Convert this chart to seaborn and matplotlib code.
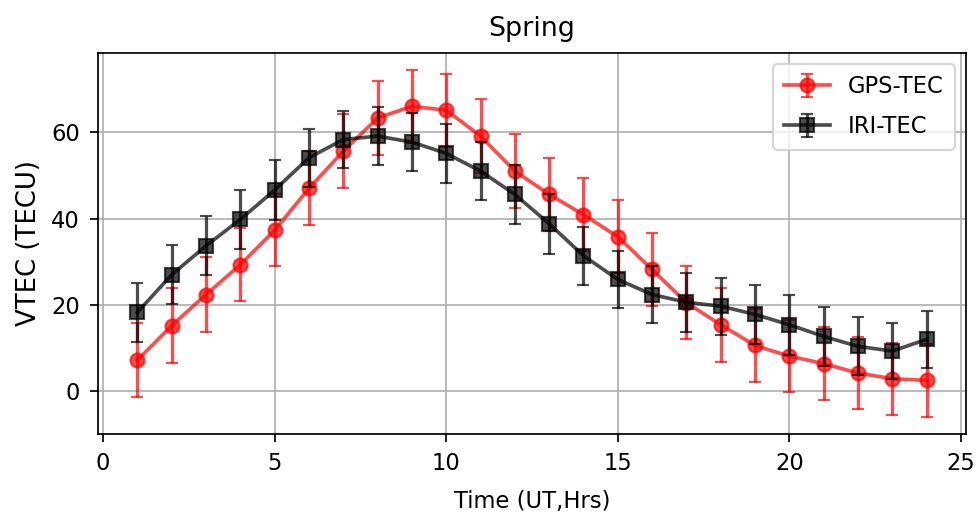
import matplotlib
matplotlib.use("Agg")
import matplotlib.pyplot as plt
import seaborn as sns
import pandas as pd

# Hourly mean vertical TEC for spring, with standard deviations
hours = list(range(1, 25))
gps_tec = [7.2, 15.2, 22.4, 29.3, 37.3, 47.0, 55.6, 63.3, 66.0, 65.1, 59.1, 51.0,
           45.6, 40.9, 35.8, 28.2, 20.5, 15.4, 10.6, 8.1, 6.4, 4.2, 2.9, 2.5]
gps_std = [8.6, 8.7, 8.6, 8.5, 8.3, 8.6, 8.6, 8.5, 8.4, 8.5, 8.5, 8.5,
           8.5, 8.5, 8.4, 8.5, 8.5, 8.6, 8.4, 8.3, 8.5, 8.4, 8.3, 8.4]
iri_tec = [18.3, 27.0, 33.7, 39.8, 46.6, 54.1, 58.3, 59.1, 57.7, 55.1, 51.0, 45.6,
           38.8, 31.4, 25.9, 22.4, 20.6, 19.7, 17.8, 15.4, 12.7, 10.4, 9.3, 12.0]
iri_std = [6.8, 6.8, 6.8, 6.8, 7.0, 6.7, 6.7, 6.7, 6.7, 6.9, 6.8, 6.8,
           6.9, 6.7, 6.7, 6.7, 6.8, 6.6, 6.8, 7.0, 6.8, 6.7, 6.4, 6.7]

series = [
    ("GPS-TEC", gps_tec, gps_std, "red", "o"),
    ("IRI-TEC", iri_tec, iri_std, "black", "s"),
]

DPI = 155
fig = plt.figure(figsize=(978 / DPI, 512 / DPI), dpi=DPI)
ax = fig.add_axes([0.1002, 0.1523, 0.8875, 0.7447])

handles, labels = [], []
for name, vals, std, color, marker in series:
    df = pd.DataFrame({"hour": hours, "tec": vals})
    sns.lineplot(data=df, x="hour", y="tec", ax=ax, color=color, marker=marker,
                 markersize=6.5, markeredgecolor=color, markeredgewidth=1,
                 linewidth=1.7, alpha=0.7, legend=False)
    line = ax.lines[-1]
    eb = ax.errorbar(hours, vals, yerr=std, fmt="none", ecolor=color,
                     elinewidth=1.5, capsize=3, alpha=0.7)
    handles.append((line, eb))
    labels.append(name)

ax.set_title("Spring", fontsize=12.5, pad=8)
ax.set_xlabel("Time (UT,Hrs)", fontsize=10.5, labelpad=7)
ax.set_ylabel("VTEC (TECU)", fontsize=12)
ax.set_xticks([0, 5, 10, 15, 20, 25])
ax.set_yticks([0, 20, 40, 60])
ax.tick_params(labelsize=10.5, pad=5)
ax.grid(True)
ax.legend(handles, labels, loc="upper right", fontsize=10.5, labelspacing=0.75,
          borderpad=0.5)

fig.savefig("out.png", dpi=DPI)
